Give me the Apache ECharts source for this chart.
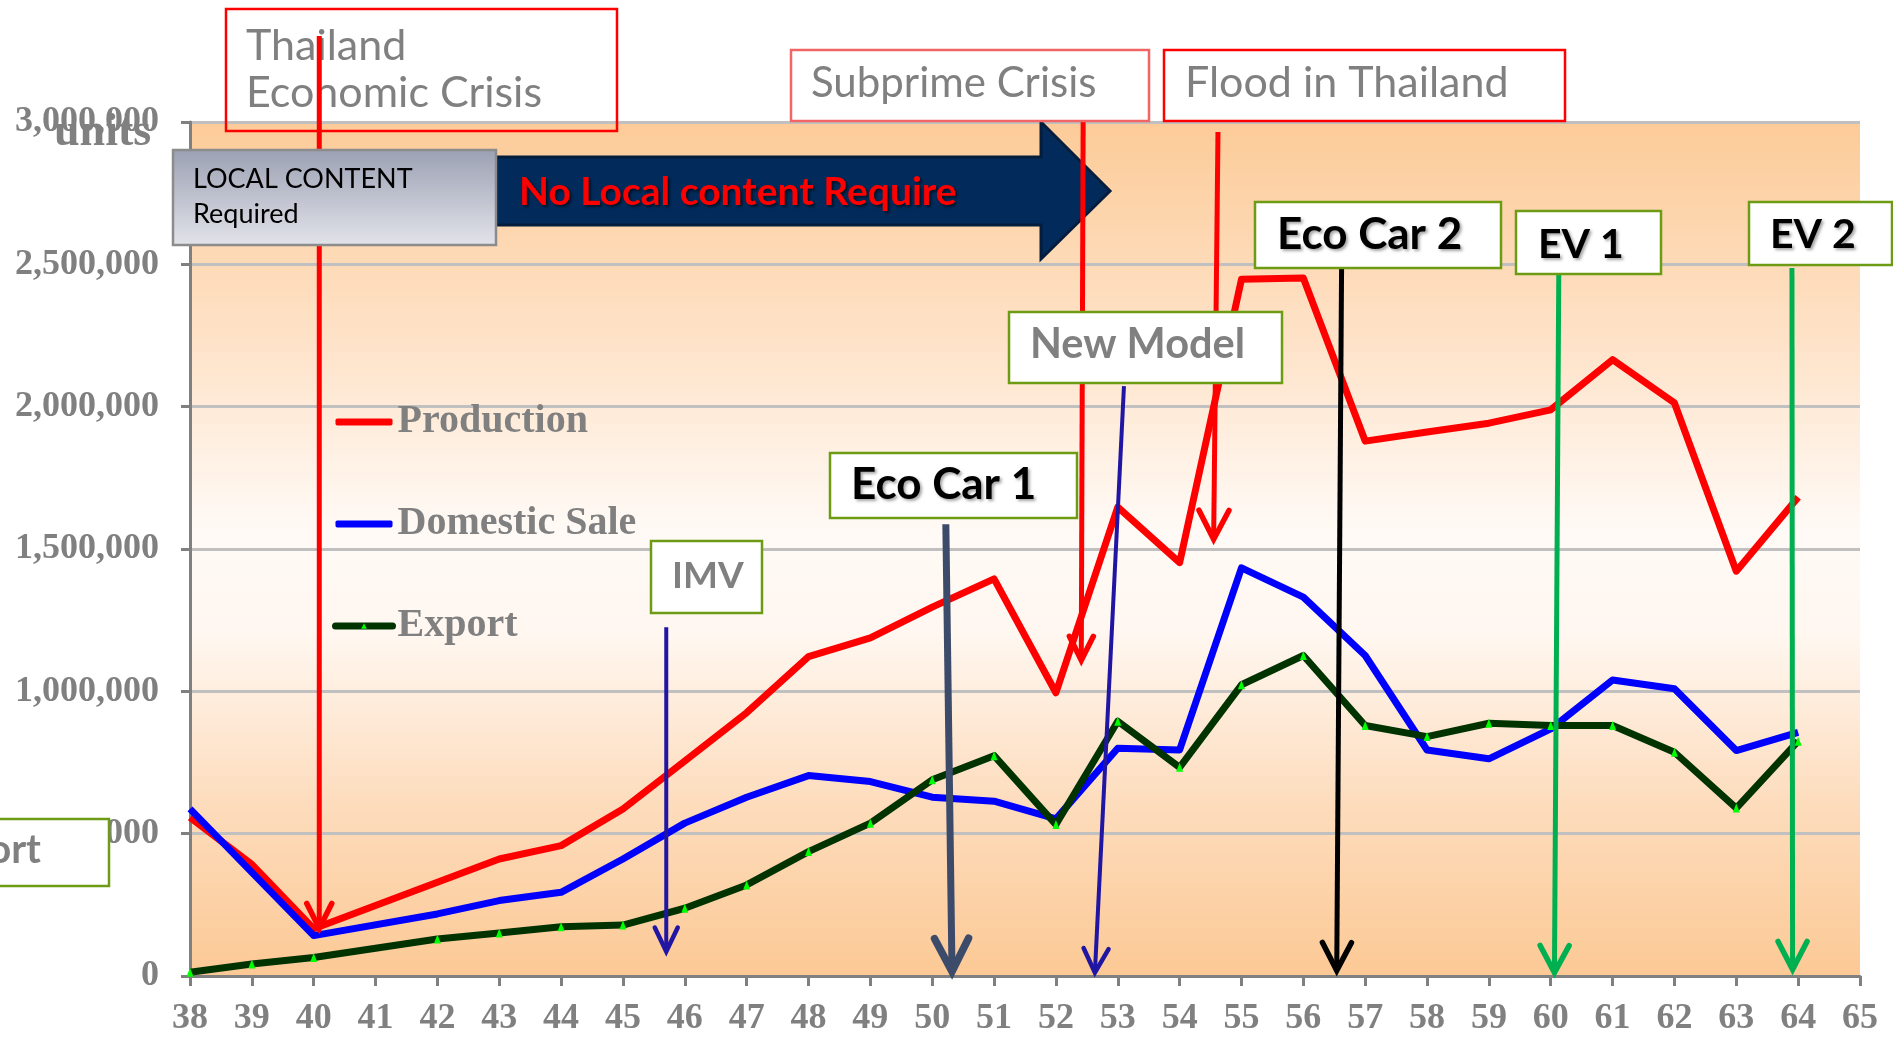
<!DOCTYPE html>
<html><head><meta charset="utf-8">
<script src="https://cdn.jsdelivr.net/npm/echarts@6/dist/echarts.min.js"></script>
<style>html,body{margin:0;padding:0;background:#fff}#c{width:1893px;height:1037px}</style>
</head><body><div id="c"></div>
<script>
// ---- data (Thai Buddhist-era year, last two digits; no point at 41) ----
const years        = [38, 39, 40, 42, 43, 44, 45, 46, 47, 48, 49, 50, 51, 52, 53, 54, 55, 56, 57, 58, 59, 60, 61, 62, 63, 64];
const production   = [557000, 392000, 166000, 329000, 411000, 458000, 587000, 755000, 925000, 1122000, 1188000, 1296000, 1395000, 995000, 1647000, 1452000, 2448000, 2452000, 1879000, 1911000, 1942000, 1989000, 2165000, 2013000, 1422000, 1682000];
const domesticSale = [587000, 364000, 142000, 218000, 265000, 294000, 411000, 537000, 628000, 704000, 683000, 628000, 614000, 552000, 800000, 794000, 1434000, 1331000, 1126000, 794000, 763000, 868000, 1040000, 1009000, 792000, 856000];
const exportUnits  = [13000, 42000, 65000, 130000, 151000, 173000, 179000, 238000, 320000, 437000, 537000, 689000, 774000, 532000, 895000, 733000, 1023000, 1126000, 880000, 841000, 888000, 880000, 880000, 786000, 590000, 825000];
const seriesNames  = ['Production', 'Domestic Sale', 'Export'];
const xRange = {min: 38, max: 65, interval: 1};
const yRange = {min: 0, max: 3000000, interval: 500000};

// annotation arrows in axis units: [label, yearTop, valueTop, yearTip, valueTip]
const arrowPoints = [
  ['Thailand',  40.09, 3302000, 40.09, 167000],
  ['Subprime',  52.44, 3000000, 52.41, 1109000],
  ['Flood',     54.62, 2965000, 54.55, 1534000],
  ['IMV',       45.70, 1225000, 45.70, 86000],
  ['EcoCar1',   50.22, 1587000, 50.32, 16000],
  ['NewModel',  53.10, 2072000, 52.63, 12000],
  ['EcoCar2',   56.62, 2540000, 56.54, 19000],
  ['EV1',       60.13, 2466000, 60.06, 12000],
  ['EV2',       63.90, 2487000, 63.91, 23000]
];

const serif = '"Liberation Serif", "Times New Roman", serif';
const sans = 'Lato, "Open Sans", sans-serif';
const GRAY = '#808080';

const chart = echarts.init(document.getElementById('c'), null, {renderer: 'canvas'});

const toPairs = arr => years.map((y, i) => [y, arr[i]]);

const option = {
  animation: false,
  backgroundColor: '#ffffff',
  grid: {
    left: 190, right: 33, top: 122, bottom: 61, show: true, borderWidth: 0,
    outerBoundsMode: 'none', containLabel: false,
    backgroundColor: {type: 'linear', x: 0, y: 0, x2: 0, y2: 1, colorStops: [
      {offset: 0, color: '#FCCB98'}, {offset: 0.25, color: '#FEE2C7'},
      {offset: 0.48, color: '#FFFAF6'}, {offset: 0.6, color: '#FFF7F0'},
      {offset: 0.8, color: '#FDDCBC'}, {offset: 1, color: '#FCC995'}]}
  },
  legend: {
    data: [
      {name: seriesNames[0], icon: 'roundRect'},
      {name: seriesNames[1], icon: 'roundRect'},
      {name: seriesNames[2]}
    ],
    orient: 'vertical', left: 332, top: 402, padding: 0,
    itemWidth: 57, itemHeight: 7, itemGap: 62,
    lineStyle: {width: 7, cap: 'round'},
    textStyle: {fontFamily: serif, fontWeight: 'bold', fontSize: 40, color: GRAY}
  },
  xAxis: {
    type: 'value', min: xRange.min, max: xRange.max, interval: xRange.interval,
    axisLine: {show: true, lineStyle: {color: GRAY, width: 3}},
    axisTick: {show: true, length: 10, lineStyle: {color: GRAY, width: 3}},
    axisLabel: {margin: 25, fontFamily: serif, fontWeight: 'bold', fontSize: 36, color: GRAY, formatter: v => String(v)},
    splitLine: {show: false}
  },
  yAxis: {
    type: 'value', min: yRange.min, max: yRange.max, interval: yRange.interval,
    axisLine: {show: true, lineStyle: {color: GRAY, width: 3}},
    axisTick: {show: true, length: 9, lineStyle: {color: GRAY, width: 3}},
    axisLabel: {margin: 31, fontFamily: serif, fontWeight: 'bold', fontSize: 36, color: GRAY,
      padding: [4, 0, 0, 0],
      formatter: v => v.toLocaleString('en-US')},
    splitLine: {show: true, lineStyle: {color: '#C0C0C0', width: 3}}
  },
  series: [
    {name: seriesNames[0], type: 'line', data: toPairs(production), symbol: 'none',
     lineStyle: {color: '#FF0000', width: 7, join: 'round'}, itemStyle: {color: '#FF0000'}, z: 3},
    {name: seriesNames[1], type: 'line', data: toPairs(domesticSale), symbol: 'none',
     lineStyle: {color: '#0000FF', width: 7, join: 'round'}, itemStyle: {color: '#0000FF'}, z: 4},
    {name: seriesNames[2], type: 'line', data: toPairs(exportUnits), symbol: 'triangle', symbolSize: [7, 9],
     showSymbol: true,
     lineStyle: {color: '#003300', width: 7, join: 'round'}, itemStyle: {color: '#00FF00', borderWidth: 0}, z: 5}
  ]
};
chart.setOption(option);

// ---------- annotations ----------
const arrowStyle = {
  Thailand: {color: '#FF0000', w: 5, hw: 12.5, hl: 25, z: 105},
  Subprime: {color: '#FF0000', w: 5, hw: 12, hl: 24, z: 100},
  Flood:    {color: '#FF0000', w: 5, hw: 15, hl: 29, z: 100},
  IMV:      {color: '#2115A3', w: 4, hw: 11.5, hl: 24, z: 100},
  EcoCar1:  {color: '#3D4B6B', w: 7, hw: 17, hl: 33, z: 100},
  NewModel: {color: '#2115A3', w: 4, hw: 12.5, hl: 24, z: 100},
  EcoCar2:  {color: '#000000', w: 5, hw: 14.5, hl: 28, z: 100},
  EV1:      {color: '#00B050', w: 5, hw: 14.5, hl: 27, z: 100},
  EV2:      {color: '#00B050', w: 5, hw: 14.5, hl: 28, z: 100}
};

const graphics = [];
arrowPoints.forEach(a => {
  const st = arrowStyle[a[0]];
  const p0 = chart.convertToPixel({gridIndex: 0}, [a[1], a[2]]);
  const p1 = chart.convertToPixel({gridIndex: 0}, [a[3], a[4]]);
  const dx = p1[0] - p0[0], dy = p1[1] - p0[1];
  const L = Math.sqrt(dx * dx + dy * dy);
  const ux = dx / L, uy = dy / L, nx = -uy, ny = ux;
  const bx = p1[0] - ux * st.hl, by = p1[1] - uy * st.hl;
  graphics.push({type: 'polyline', silent: true, z: st.z,
    shape: {points: [p0, [p1[0] - ux * 2, p1[1] - uy * 2]]},
    style: {stroke: st.color, lineWidth: st.w, fill: null, lineCap: 'butt'}});
  graphics.push({type: 'polyline', silent: true, z: st.z,
    shape: {points: [[bx + nx * st.hw, by + ny * st.hw], p1, [bx - nx * st.hw, by - ny * st.hw]]},
    style: {stroke: st.color, lineWidth: st.w + 0.5, fill: null, lineCap: 'round', lineJoin: 'miter'}});
});

function rect(x0, y0, x1, y1, stroke, fill, z, lw) {
  return {type: 'rect', silent: true, z: z, shape: {x: x0, y: y0, width: x1 - x0, height: y1 - y0},
    style: {fill: fill, stroke: stroke, lineWidth: lw || 2.5}};
}
function txt(text, x, y, size, color, weight, z, family, shadow) {
  const s = {text: text, fontSize: size, fontFamily: family || sans, fontWeight: weight || 'normal',
    fill: color, align: 'left', verticalAlign: 'middle'};
  if (shadow) { s.textShadowColor = shadow; s.textShadowBlur = 3; s.textShadowOffsetX = 2; s.textShadowOffsetY = 2; }
  return {type: 'text', silent: true, z: z, x: x, y: y, style: s};
}
const GREEN_BORDER = '#6E9B14';

// units
graphics.push(txt('units', 54, 133, 46, GRAY, 'bold', 50, serif));
// Thailand Economic Crisis (no fill)
graphics.push(rect(226, 9, 617, 131, '#FF0000', null, 90));
graphics.push(txt('Thailand', 246, 46, 43, GRAY, 'normal', 90));
graphics.push(txt('Economic Crisis', 246, 93, 43, GRAY, 'normal', 90));
// big navy arrow
graphics.push({type: 'polygon', silent: true, z: 95,
  shape: {points: [[496, 157], [1041, 157], [1041, 122], [1110, 191], [1041, 259], [1041, 225], [496, 225]]},
  style: {fill: '#022B5B', stroke: '#051D3D', lineWidth: 3}});
graphics.push(txt('No Local content Require', 519, 192, 39, '#FF0000', 'bold', 96, sans, 'rgba(0,0,0,0.6)'));
// LOCAL CONTENT box
graphics.push(rect(173, 150, 496, 245, '#8C8C8C',
  new echarts.graphic.LinearGradient(0, 0, 0, 1, [{offset: 0, color: '#9BA0B3'}, {offset: 1, color: '#E3E4EA'}]), 110));
graphics.push(txt('LOCAL CONTENT', 193, 179, 27, '#000000', 'normal', 111));
graphics.push(txt('Required', 193, 214, 27, '#000000', 'normal', 111));
// Subprime / Flood
graphics.push(rect(791, 50, 1149, 121, '#F26565', '#FFFFFF', 110));
graphics.push(txt('Subprime Crisis', 811, 83, 42, GRAY, 'normal', 111));
graphics.push(rect(1164, 50, 1565, 121, '#FF0000', '#FFFFFF', 110));
graphics.push(txt('Flood in Thailand', 1185, 83, 43, GRAY, 'normal', 111));
// green boxes
graphics.push(rect(1255, 202, 1501, 268, GREEN_BORDER, '#FFFFFF', 110));
graphics.push(txt('Eco Car 2', 1277, 235, 44, '#000000', 'bold', 111, sans, 'rgba(0,0,0,0.35)'));
graphics.push(rect(1516, 211, 1661, 274, GREEN_BORDER, '#FFFFFF', 110));
graphics.push(txt('EV 1', 1538, 245, 41, '#000000', 'bold', 111, sans, 'rgba(0,0,0,0.35)'));
graphics.push(rect(1749, 202, 1892, 265, GREEN_BORDER, '#FFFFFF', 110));
graphics.push(txt('EV 2', 1770, 235, 41, '#000000', 'bold', 111, sans, 'rgba(0,0,0,0.35)'));
graphics.push(rect(1009, 312, 1282, 383, GREEN_BORDER, '#FFFFFF', 110));
graphics.push(txt('New Model', 1030, 345, 41.5, GRAY, 'bold', 111));
graphics.push(rect(830, 453, 1077, 518, GREEN_BORDER, '#FFFFFF', 110));
graphics.push(txt('Eco Car 1', 851, 485, 44, '#000000', 'bold', 111, sans, 'rgba(0,0,0,0.35)'));
graphics.push(rect(651, 541, 762, 613, GREEN_BORDER, '#FFFFFF', 110));
graphics.push(txt('IMV', 672, 576, 37, GRAY, 'bold', 111));
graphics.push(rect(-150, 819, 109, 886, GREEN_BORDER, '#FFFFFF', 110));
graphics.push({type: 'text', silent: true, z: 111, x: 41, y: 850,
  style: {text: 'Export', fontSize: 40, fontFamily: sans, fontWeight: 'bold', fill: GRAY, align: 'right', verticalAlign: 'middle'}});

chart.setOption({graphic: {elements: graphics}});
</script></body></html>
